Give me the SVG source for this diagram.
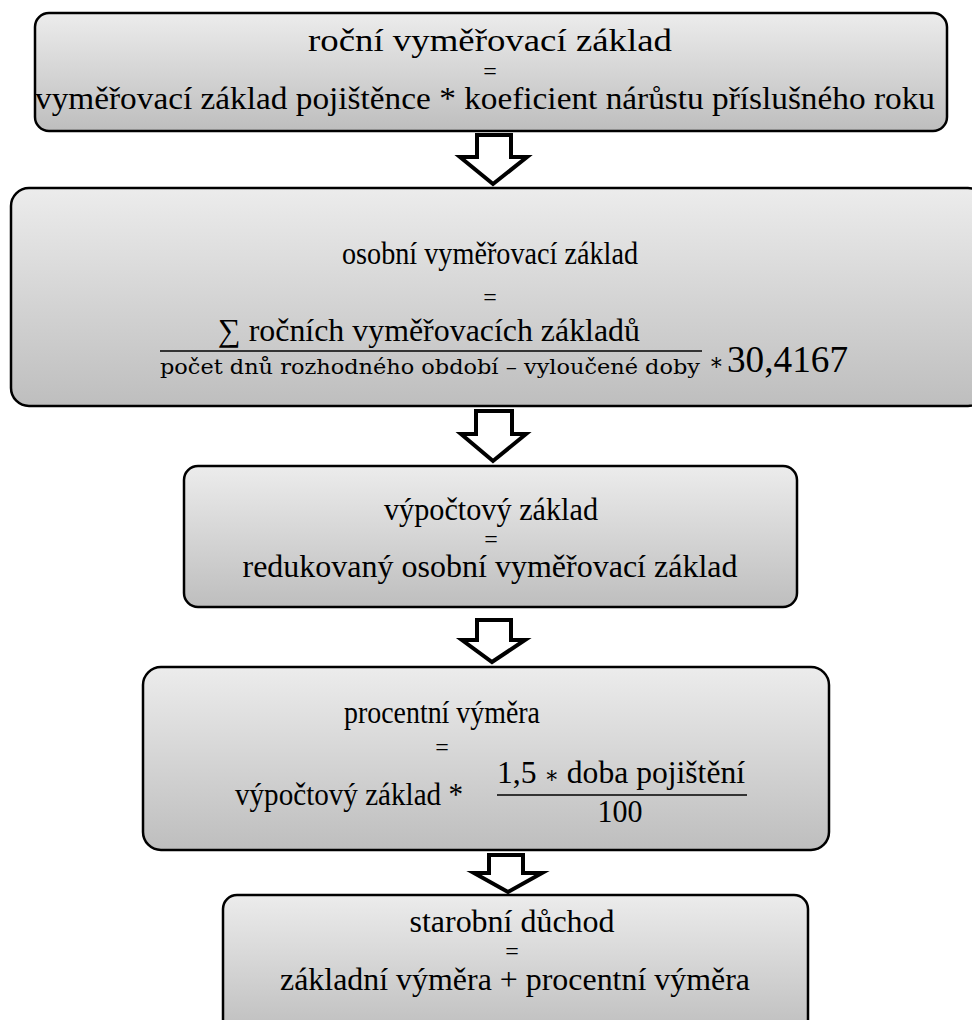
<svg xmlns="http://www.w3.org/2000/svg" width="972" height="1020" viewBox="0 0 972 1020">
<defs>
<linearGradient id="g" x1="0" y1="0" x2="0" y2="1">
<stop offset="0" stop-color="#ececec"/>
<stop offset="1" stop-color="#bebebe"/>
</linearGradient>
<style>
.box{fill:url(#g);stroke:#000;stroke-width:2.5}
.t{font-size:32px;fill:#000;text-anchor:middle}
.eq{font-size:24px;fill:#000;text-anchor:middle}
.m{fill:#000}
.arr{fill:#fff;stroke:#000;stroke-width:4;stroke-linejoin:miter}
.ln{stroke:#000;stroke-width:1.5}
</style>
</defs>
<rect width="972" height="1020" fill="#fff"/>
<g id="connectors">
<path class="arr" d="M477,135 H511 V157 H527 L493,184 L460,157 H477 Z"/>
<path class="arr" d="M476,411 H512 V434 H526 L493,461 L461,434 H476 Z"/>
<path class="arr" d="M477,620 H511 V640 H525 L492,662 L462,640 H477 Z"/>
<path class="arr" d="M489,855 H523 V873 H542 L508,892 L474,873 H489 Z"/>
</g>
<g font-family="Liberation Serif, Times New Roman, DejaVu Serif Condensed, serif">
<g id="n1">
<rect class="box" x="35" y="13" width="912" height="118" rx="14"/>
<text class="t" x="490" y="51" textLength="364" lengthAdjust="spacingAndGlyphs">roční vyměřovací základ</text>
<text class="eq" x="490" y="79">=</text>
<text class="t" x="485" y="109" textLength="900" lengthAdjust="spacingAndGlyphs">vyměřovací základ pojištěnce * koeficient nárůstu příslušného roku</text>
</g>
<g id="n2">
<rect class="box" x="11" y="188" width="975" height="218" rx="18"/>
<text class="t" x="490" y="264" font-size="34" textLength="296" lengthAdjust="spacingAndGlyphs">osobní vyměřovací základ</text>
<text class="eq" x="490" y="305">=</text>
<text class="t" x="429" y="341" textLength="422" lengthAdjust="spacingAndGlyphs">∑ ročních vyměřovacích základů</text>
<line class="ln" x1="160" y1="351" x2="702" y2="351"/>
<text class="m" x="430" y="374" font-size="21" text-anchor="middle" textLength="540" lengthAdjust="spacingAndGlyphs" font-family="DejaVu Serif Condensed, DejaVu Serif, serif">počet dnů rozhodného období – vyloučené doby</text>
<text class="m" x="709" y="370" font-size="24">∗</text>
<text class="m" x="727" y="372" font-size="38" textLength="121" lengthAdjust="spacingAndGlyphs">30,4167</text>
</g>
<g id="n3">
<rect class="box" x="184" y="466" width="613" height="141" rx="14"/>
<text class="t" x="491" y="520" textLength="214" lengthAdjust="spacingAndGlyphs">výpočtový základ</text>
<text class="eq" x="491" y="547">=</text>
<text class="t" x="490" y="577" textLength="495" lengthAdjust="spacingAndGlyphs">redukovaný osobní vyměřovací základ</text>
</g>
<g id="n4">
<rect class="box" x="143" y="667" width="686" height="183" rx="18"/>
<text class="t" x="442" y="723" font-size="34" textLength="196" lengthAdjust="spacingAndGlyphs">procentní výměra</text>
<text class="eq" x="442" y="755">=</text>
<text class="t" x="349" y="805" font-size="34" textLength="228" lengthAdjust="spacingAndGlyphs">výpočtový základ *</text>
<text class="t" x="621" y="783" font-size="34" textLength="248" lengthAdjust="spacingAndGlyphs">1,5 <tspan font-size="24">∗</tspan> doba pojištění</text>
<line class="ln" x1="497" y1="795" x2="747" y2="795"/>
<text class="t" x="620" y="822" font-size="34" textLength="45" lengthAdjust="spacingAndGlyphs">100</text>
</g>
<g id="n5">
<rect class="box" x="223" y="895" width="585" height="140" rx="14"/>
<text class="t" x="512" y="932" textLength="205" lengthAdjust="spacingAndGlyphs">starobní důchod</text>
<text class="eq" x="512" y="959">=</text>
<text class="t" x="515" y="990" textLength="470" lengthAdjust="spacingAndGlyphs">základní výměra + procentní výměra</text>
</g>
</g>
</svg>
